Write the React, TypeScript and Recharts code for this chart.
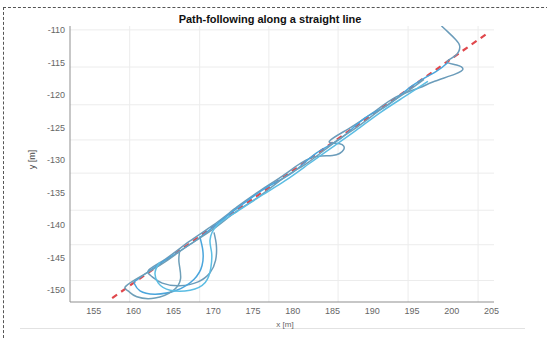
import { LineChart, Line, XAxis, YAxis, ReferenceLine } from 'recharts';

// axis ticks
const xTicks = [155, 160, 165, 170, 175, 180, 185, 190, 195, 200, 205];
const yTicks = [-150, -145, -140, -135, -130, -125, -120, -115, -110];

// faint grid (not aligned with ticks in the source figure)
const gridX = [159.5, 168.3, 177, 185.7, 194.5, 203.3];
const gridY = [-110, -115.7, -121.5, -126.9, -132, -137.7, -143, -148.5];

// desired straight path
const pathX = [157.3, 204.5];
const pathY = [-151.2, -110.5];

// vehicle runs
const run1X = [170.1, 170.4, 170.3, 169.6, 168.1, 165.8, 163.6, 162.3, 161.9, 164, 167, 170, 173, 176, 179, 182.2, 185, 186.4, 185.9, 184.6, 187, 190, 193, 195.9, 197.6, 200.4, 201.4, 200.6, 199.4, 200.4, 201.0, 200.5, 199.5, 198.7];
const run1Y = [-141.1, -143.1, -145.4, -147.3, -148.7, -149.3, -148.9, -147.9, -146.9, -145.2, -142.5, -140.0, -137.2, -134.6, -132.2, -129.7, -129.3, -128.4, -127.5, -127.1, -125.2, -122.8, -120.3, -118.9, -118.0, -116.8, -116.0, -115.4, -114.9, -114.0, -112.6, -111.5, -110.3, -109.4];

const run2X = [168.3, 168.7, 168.6, 167.6, 165.4, 162.7, 160.8, 160.1, 160.3, 162, 165, 168, 171, 174, 177, 180, 183, 186, 189, 192, 195, 198, 199.5];
const run2Y = [-141.7, -143.9, -146.2, -148.3, -150.0, -150.6, -150.1, -149.0, -148.5, -147.0, -144.6, -142.2, -139.3, -136.5, -134.0, -131.9, -128.9, -126.7, -123.6, -121.5, -118.6, -116.4, -115.0];

const run3X = [165.8, 165.7, 165.9, 164.9, 162.7, 160.4, 159.3, 159.0, 161, 164, 167, 170, 173, 176, 179, 182, 185, 188, 191, 194, 196.5];
const run3Y = [-143.9, -145.7, -148.2, -150.1, -151.2, -151.0, -150.1, -149.4, -147.8, -145.6, -143.0, -140.6, -137.8, -135.4, -132.6, -130.3, -127.5, -125.0, -122.3, -119.8, -117.6];

const run4X = [163.3, 162.7, 163.1, 164.6, 167.1, 169.0, 169.7, 169.8, 169.6, 170.5, 173, 176, 179, 182, 185, 188, 191, 194, 197];
const run4Y = [-145.7, -147.2, -148.9, -150.0, -150.0, -148.8, -146.6, -144.2, -142.3, -140.0, -137.9, -135.5, -133.2, -130.6, -128.0, -125.4, -122.7, -120.3, -117.9];

const zip = (xs: number[], ys: number[]) => xs.map((x, i) => ({ x, y: ys[i] }));

const runs = [
  { data: zip(run1X, run1Y), color: '#6b9cba' },
  { data: zip(run2X, run2Y), color: '#4aa5dc' },
  { data: zip(run3X, run3Y), color: '#6e9fb8' },
  { data: zip(run4X, run4Y), color: '#5cbde3' },
];

const font = '"Liberation Sans", Arial, sans-serif';

export default function App() {
  return (
    <div style={{ position: 'absolute', left: 0, top: 0, width: 547, height: 338, background: '#fff', overflow: 'hidden', fontFamily: font }}>
      <div style={{ position: 'absolute', left: 3, top: 7, width: 560, height: 340, borderLeft: '1px dashed #555', borderTop: '1px dashed #555' }} />
      <div style={{ position: 'absolute', left: 20, top: 328, width: 505, height: 1, background: '#e2e2e2' }} />
      <div style={{ position: 'absolute', left: 120, width: 300, top: 13, textAlign: 'center', fontSize: 11, fontWeight: 'bold', color: '#111', lineHeight: '13px' }}>
        Path-following along a straight line
      </div>
      <div style={{ position: 'absolute', left: 12, top: 154, width: 40, textAlign: 'center', fontSize: 9, color: '#444', lineHeight: '11px', transform: 'rotate(-90deg)' }}>
        y [m]
      </div>
      <div style={{ position: 'absolute', left: 265, top: 320, width: 40, textAlign: 'center', fontSize: 8, color: '#666', lineHeight: '10px' }}>
        x [m]
      </div>
      <LineChart
        width={547}
        height={338}
        margin={{ top: 26, right: 53, left: 0, bottom: 0 }}
        style={{ position: 'absolute', left: 0, top: 0 }}
      >
        <XAxis
          type="number"
          dataKey="x"
          domain={[152, 205.3]}
          ticks={xTicks}
          allowDataOverflow
          height={36}
          axisLine={{ stroke: '#8f8f8f' }}
          tickLine={false}
          tickSize={6}
          tickMargin={0}
          tick={{ fill: '#666', fontSize: 9, fontFamily: font }}
        />
        <YAxis
          type="number"
          dataKey="y"
          domain={[-151.8, -109.4]}
          ticks={yTicks}
          allowDataOverflow
          width={70}
          axisLine={{ stroke: '#8f8f8f' }}
          tickLine={false}
          tickSize={3}
          tickMargin={2}
          tick={{ fill: '#666', fontSize: 9, fontFamily: font }}
        />
        {gridX.map((v) => (
          <ReferenceLine key={'gx' + v} x={v} stroke="#ececec" strokeWidth={1} />
        ))}
        {gridY.map((v) => (
          <ReferenceLine key={'gy' + v} y={v} stroke="#ececec" strokeWidth={1} />
        ))}
        <Line
          data={zip(pathX, pathY)}
          dataKey="y"
          type="linear"
          stroke="#e0474c"
          strokeWidth={2.2}
          strokeDasharray="6 5"
          dot={false}
          isAnimationActive={false}
        />
        {runs.map((r, i) => (
          <Line
            key={i}
            data={r.data}
            dataKey="y"
            type="natural"
            stroke={r.color}
            strokeWidth={1.5}
            dot={false}
            isAnimationActive={false}
          />
        ))}
      </LineChart>
    </div>
  );
}
